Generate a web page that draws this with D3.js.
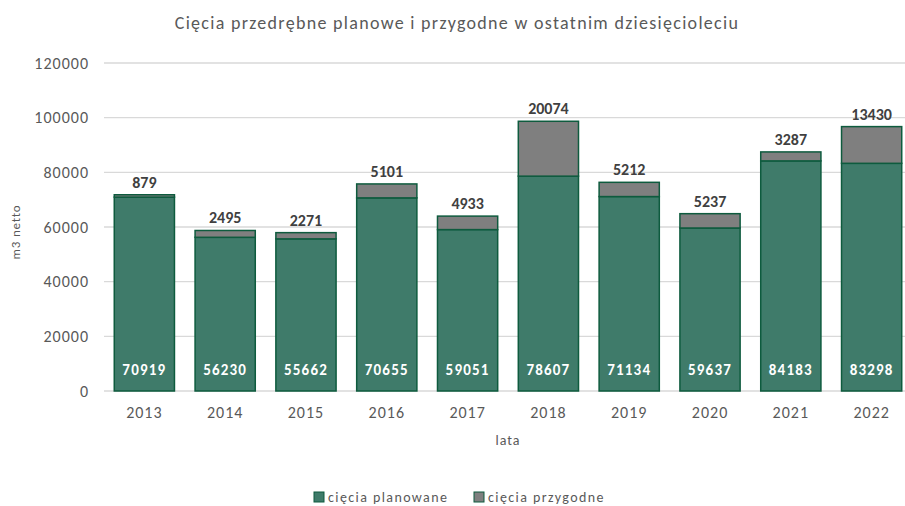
<!DOCTYPE html>
<html>
<head>
<meta charset="utf-8">
<script src="https://cdn.jsdelivr.net/npm/d3@7"></script>
<style>
  body { margin: 0; background: #fff; }
  text { font-family: "Carlito", "Lato", "Open Sans", sans-serif; }
</style>
</head>
<body>
<div id="chart"></div>
<script>
// data
var years = ["2013", "2014", "2015", "2016", "2017", "2018", "2019", "2020", "2021", "2022"];
var planowe = [70919, 56230, 55662, 70655, 59051, 78607, 71134, 59637, 84183, 83298];
var przygodne = [879, 2495, 2271, 5101, 4933, 20074, 5212, 5237, 3287, 13430];
var yTicks = [0, 20000, 40000, 60000, 80000, 100000, 120000];
var seriesNames = ["cięcia planowane", "cięcia przygodne"];

var W = 905, H = 506;
// plot runs a little past the right edge, like the cropped original
var margin = {left: 104, right: -7, top: 63, bottom: 115};

var svg = d3.select("#chart").append("svg")
  .attr("width", W).attr("height", H);

var x = d3.scaleBand()
  .domain(years)
  .range([margin.left, W - margin.right])
  .paddingInner(0.255)
  .paddingOuter(0.127);

var y = d3.scaleLinear()
  .domain([0, 120000])
  .range([H - margin.bottom, margin.top]);

// gridlines
svg.append("g")
  .selectAll("line")
  .data(yTicks)
  .join("line")
  .attr("x1", margin.left).attr("x2", W - margin.right)
  .attr("y1", function (d) { return y(d); })
  .attr("y2", function (d) { return y(d); })
  .style("stroke", "#d9d9d9")
  .style("stroke-width", 1.3);

// y axis labels
var yAxis = svg.append("g")
  .attr("transform", "translate(" + (margin.left - 15) + ",0)")
  .call(d3.axisLeft(y).tickValues(yTicks).tickFormat(d3.format("d")).tickSize(0).tickPadding(0));
yAxis.select(".domain").remove();
yAxis.selectAll("text")
  .style("font-size", "16px")
  .style("letter-spacing", "1px")
  .style("fill", "#595959");

// x axis labels
var xAxis = svg.append("g")
  .attr("transform", "translate(0," + (H - margin.bottom) + ")")
  .call(d3.axisBottom(x).tickSize(0).tickPadding(16));
xAxis.select(".domain").remove();
xAxis.selectAll("text")
  .style("font-size", "16px")
  .style("letter-spacing", "1px")
  .style("fill", "#595959");

var rows = years.map(function (yr, i) {
  return {year: yr, a: planowe[i], b: przygodne[i]};
});

var green = "#3f7b6a", grey = "#7f7f7f", edge = "#0e5b3e";

// planned cuts
svg.append("g")
  .selectAll("rect")
  .data(rows)
  .join("rect")
  .attr("x", function (d) { return x(d.year); })
  .attr("width", x.bandwidth())
  .attr("y", function (d) { return y(d.a); })
  .attr("height", function (d) { return y(0) - y(d.a); })
  .style("fill", green)
  .style("stroke", edge)
  .style("stroke-width", 1.5);

// random cuts, stacked on top
svg.append("g")
  .selectAll("rect")
  .data(rows)
  .join("rect")
  .attr("x", function (d) { return x(d.year); })
  .attr("width", x.bandwidth())
  .attr("y", function (d) { return y(d.a + d.b); })
  .attr("height", function (d) { return y(d.a) - y(d.a + d.b); })
  .style("fill", grey)
  .style("stroke", edge)
  .style("stroke-width", 1.5);

// value labels inside bars
svg.append("g")
  .selectAll("text")
  .data(rows)
  .join("text")
  .attr("x", function (d) { return x(d.year) + x.bandwidth() / 2; })
  .attr("y", y(0) - 16)
  .attr("text-anchor", "middle")
  .style("font-size", "15px")
  .style("font-weight", "bold")
  .style("letter-spacing", "1.2px")
  .style("fill", "#ffffff")
  .text(function (d) { return d.a; });

// value labels above bars
svg.append("g")
  .selectAll("text")
  .data(rows)
  .join("text")
  .attr("x", function (d) { return x(d.year) + x.bandwidth() / 2; })
  .attr("y", function (d) { return y(d.a + d.b) - 7; })
  .attr("text-anchor", "middle")
  .style("font-size", "16px")
  .style("font-weight", "bold")
  .style("fill", "#404040")
  .text(function (d) { return d.b; });

// title
svg.append("text")
  .attr("x", 457).attr("y", 29)
  .attr("text-anchor", "middle")
  .style("font-size", "18px")
  .style("letter-spacing", "1.3px")
  .style("fill", "#595959")
  .text("Cięcia przedrębne planowe i przygodne w ostatnim dziesięcioleciu");

// axis titles
svg.append("text")
  .attr("transform", "translate(20,232) rotate(-90)")
  .attr("text-anchor", "middle")
  .style("font-size", "13px")
  .style("letter-spacing", "0.8px")
  .style("fill", "#595959")
  .text("m3 netto");

svg.append("text")
  .attr("x", (margin.left + W - margin.right) / 2).attr("y", 445)
  .attr("text-anchor", "middle")
  .style("font-size", "14px")
  .style("letter-spacing", "1px")
  .style("fill", "#595959")
  .text("lata");

// legend
var legend = svg.append("g");
var lx = [314, 474];
seriesNames.forEach(function (name, i) {
  legend.append("rect")
    .attr("x", lx[i]).attr("y", 492)
    .attr("width", 10).attr("height", 10)
    .style("fill", i === 0 ? green : grey)
    .style("stroke", edge)
    .style("stroke-width", 1);
  legend.append("text")
    .attr("x", lx[i] + 14).attr("y", 502)
    .style("font-size", "14px")
    .style("letter-spacing", "1.4px")
    .style("fill", "#595959")
    .text(name);
});
</script>
</body>
</html>
